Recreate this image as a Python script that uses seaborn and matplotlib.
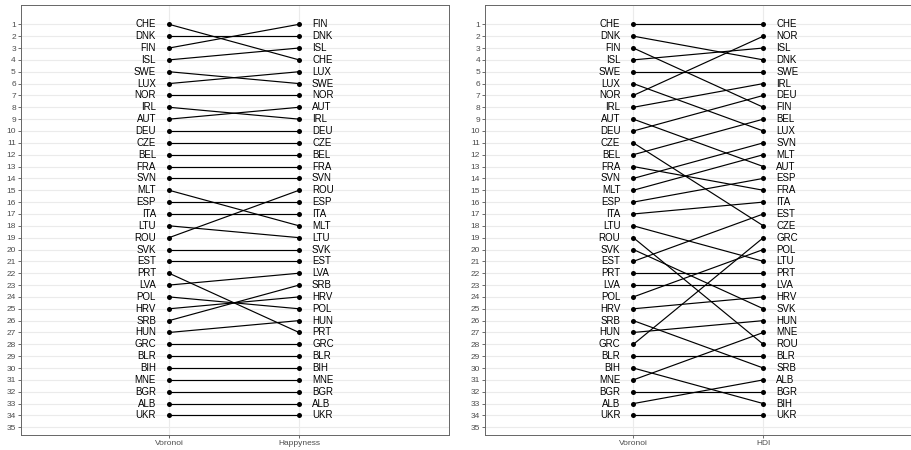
import pandas as pd
import matplotlib
matplotlib.use("Agg")
import matplotlib.pyplot as plt
import seaborn as sns

# rank orders (position in list = rank)
voronoi = ["CHE", "DNK", "FIN", "ISL", "SWE", "LUX", "NOR", "IRL", "AUT", "DEU",
           "CZE", "BEL", "FRA", "SVN", "MLT", "ESP", "ITA", "LTU", "ROU", "SVK",
           "EST", "PRT", "LVA", "POL", "HRV", "SRB", "HUN", "GRC", "BLR", "BIH",
           "MNE", "BGR", "ALB", "UKR"]
happyness = ["FIN", "DNK", "ISL", "CHE", "LUX", "SWE", "NOR", "AUT", "IRL", "DEU",
             "CZE", "BEL", "FRA", "SVN", "ROU", "ESP", "ITA", "MLT", "LTU", "SVK",
             "EST", "LVA", "SRB", "HRV", "POL", "HUN", "PRT", "GRC", "BLR", "BIH",
             "MNE", "BGR", "ALB", "UKR"]
hdi = ["CHE", "NOR", "ISL", "DNK", "SWE", "IRL", "DEU", "FIN", "BEL", "LUX",
       "SVN", "MLT", "AUT", "ESP", "FRA", "ITA", "EST", "CZE", "GRC", "POL",
       "LTU", "PRT", "LVA", "HRV", "SVK", "HUN", "MNE", "ROU", "BLR", "SRB",
       "ALB", "BGR", "BIH", "UKR"]

panels = [("Happyness", happyness), ("HDI", hdi)]
y_ticks = list(range(1, 36))


def long_df(other):
    rows = []
    for i, c in enumerate(voronoi):
        rows.append({"country": c, "x": 1, "rank": i + 1})
    for i, c in enumerate(other):
        rows.append({"country": c, "x": 2, "rank": i + 1})
    return pd.DataFrame(rows)


sns.set_theme(style="white")
plt.rcParams['font.family'] = ['Liberation Sans', 'DejaVu Sans']

fig = plt.figure(figsize=(9.11, 4.5), dpi=100)
W, H = 911, 450
axes_px = [(20.7, 5, 428, 430), (485, 5, 428, 430)]

for (name, other), (l, t, w, h) in zip(panels, axes_px):
    ax = fig.add_axes([l / W, 1 - (t + h) / H, w / W, h / H])
    df = long_df(other)
    sns.lineplot(data=df, x="x", y="rank", units="country", estimator=None,
                 color="black", linewidth=0.85, ax=ax, zorder=3)
    sns.scatterplot(data=df, x="x", y="rank", color="black", s=13,
                    linewidth=0, ax=ax, zorder=4)
    for i, c in enumerate(voronoi):
        ax.text(0.9, i + 1, c, ha="right", va="center", fontsize=7, color="black")
    for i, c in enumerate(other):
        ax.text(2.1, i + 1, c, ha="left", va="center", fontsize=7, color="black")

    ax.set_xlim(-0.141, 3.151)
    ax.set_ylim(35.65, -0.63)
    ax.set_xticks([1, 2])
    ax.set_xticklabels(["Voronoi", name])
    ax.set_yticks(y_ticks)
    ax.set_yticklabels([str(v) for v in y_ticks])
    ax.tick_params(axis="both", labelsize=6, colors="#333333", labelcolor="#4d4d4d",
                   length=2, width=0.5, pad=1.5, left=True, bottom=True)
    ax.grid(True, color="#ebebeb", linewidth=0.8)
    ax.set_axisbelow(True)
    ax.set_xlabel("")
    ax.set_ylabel("")
    for s in ax.spines.values():
        s.set_color("#666666")
        s.set_linewidth(0.7)

fig.savefig("out.png", dpi=100)
